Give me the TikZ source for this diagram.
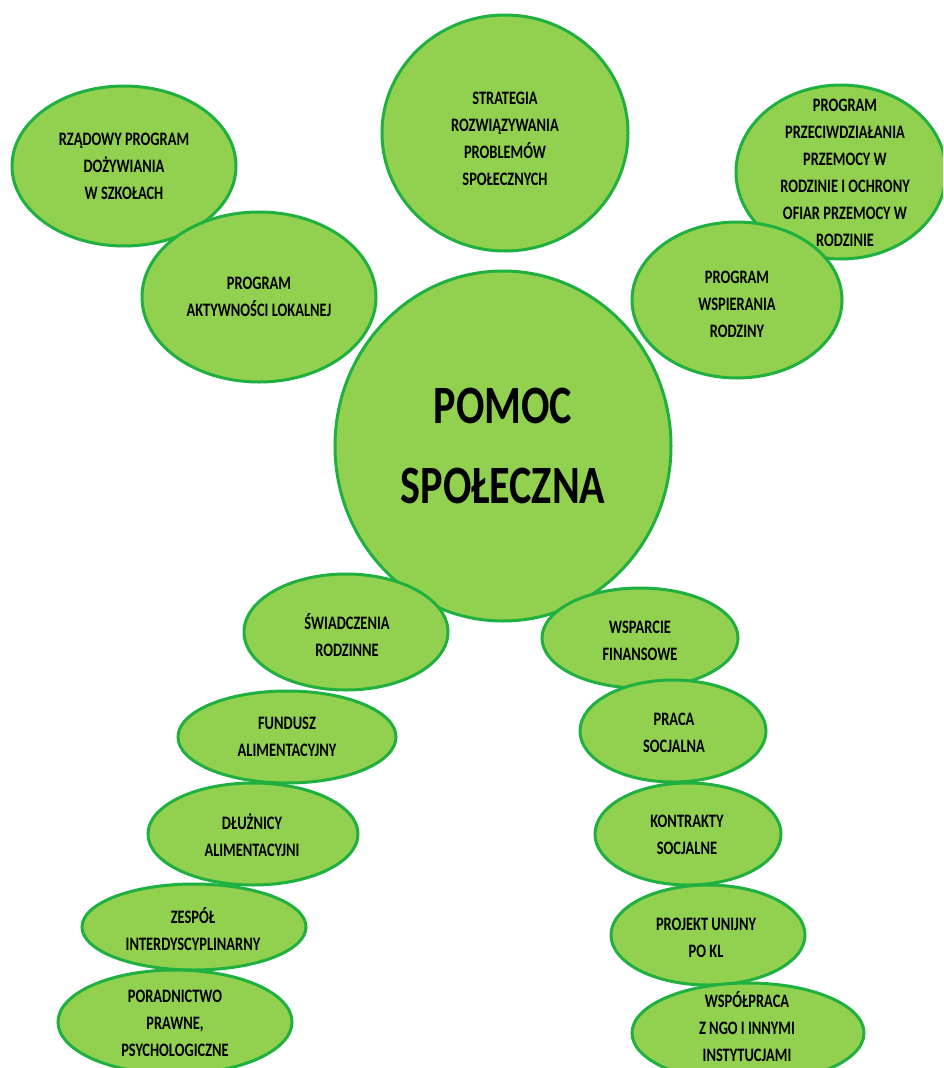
\documentclass[tikz,border=0pt]{standalone}
\usepackage{fontspec}
\usetikzlibrary{shapes.geometric}
\newfontfamily\cf{Carlito}[FakeStretch=0.78]
\newfontfamily\cfs{Carlito}[FakeStretch=0.76]
\definecolor{blobfill}{RGB}{146,208,80}
\definecolor{blobedge}{RGB}{32,176,64}
\tikzset{
  blob/.style={ellipse, draw=blobedge, fill=blobfill, line width=3pt, inner sep=0pt},
  txt/.style={align=center, inner sep=0pt, text=black, font=\cfs\bfseries\fontsize{19}{27}\selectfont},
  bigtxt/.style={align=center, inner sep=0pt, text=black, font=\cf\bfseries\fontsize{54}{80}\selectfont}
}
\newcommand{\blobat}[5]{\node[blob, minimum width=#4pt, minimum height=#5pt] (#1) at (#2,#3) {};}
\begin{document}
\begin{tikzpicture}[x=1pt,y=-1pt]
\useasboundingbox (0,0) rectangle (943,1068);
\clip (0,0) rectangle (943,1068);
% centre
\blobat{pom}{503}{446}{336}{350}
\blobat{str}{505}{133}{246}{236}
\blobat{rz}{124}{166}{224}{160}
\blobat{akt}{259}{297}{234}{170}
\blobat{prz}{841}{172}{210}{174}
\blobat{wsp}{737}{300}{210}{156}
% left leg
\blobat{swi}{346}{632}{204}{116}
\blobat{fun}{287}{737}{218}{92}
\blobat{dlu}{253}{834}{210}{102}
\blobat{zes}{194}{927}{224}{86}
\blobat{por}{175}{1022}{234}{104}
% right leg
\blobat{wsf}{640}{638}{196}{100}
\blobat{pra}{673}{731}{186}{102}
\blobat{kon}{688}{834}{186}{102}
\blobat{pro}{708}{935}{194}{100}
\blobat{wpr}{748}{1033}{232}{100}
% texts
\node[bigtxt] (pom-t) at (503,446) {POMOC\\SPOŁECZNA};
\node[txt] (str-t) at (505,139) {STRATEGIA\\ROZWIĄZYWANIA\\PROBLEMÓW\\SPOŁECZNYCH};
\node[txt] (rz-t) at (124,166) {RZĄDOWY PROGRAM\\DOŻYWIANIA\\W SZKOŁACH};
\node[txt] (akt-t) at (259,297) {PROGRAM\\AKTYWNOŚCI LOKALNEJ};
\node[txt] (prz-t) at (845,173) {PROGRAM\\PRZECIWDZIAŁANIA\\PRZEMOCY W\\RODZINIE I OCHRONY\\OFIAR PRZEMOCY W\\RODZINIE};
\node[txt] (wsp-t) at (737,304) {PROGRAM\\WSPIERANIA\\RODZINY};
\node[txt] (swi-t) at (347,635) {ŚWIADCZENIA\\RODZINNE};
\node[txt] (fun-t) at (287,737) {FUNDUSZ\\ALIMENTACYJNY};
\node[txt] (dlu-t) at (252,835) {DŁUŻNICY\\ALIMENTACYJNI};
\node[txt] (zes-t) at (193,929) {ZESPÓŁ\\INTERDYSCYPLINARNY};
\node[txt] (por-t) at (175,1023) {PORADNICTWO\\PRAWNE,\\PSYCHOLOGICZNE};
\node[txt] (wsf-t) at (640,641) {WSPARCIE\\FINANSOWE};
\node[txt] (pra-t) at (674,733) {PRACA\\SOCJALNA};
\node[txt] (kon-t) at (687,835) {KONTRAKTY\\SOCJALNE};
\node[txt] (pro-t) at (706,938) {PROJEKT UNIJNY\\PO KL};
\node[txt] (wpr-t) at (747,1027) {WSPÓŁPRACA\\Z NGO I INNYMI\\INSTYTUCJAMI};
\end{tikzpicture}
\end{document}
